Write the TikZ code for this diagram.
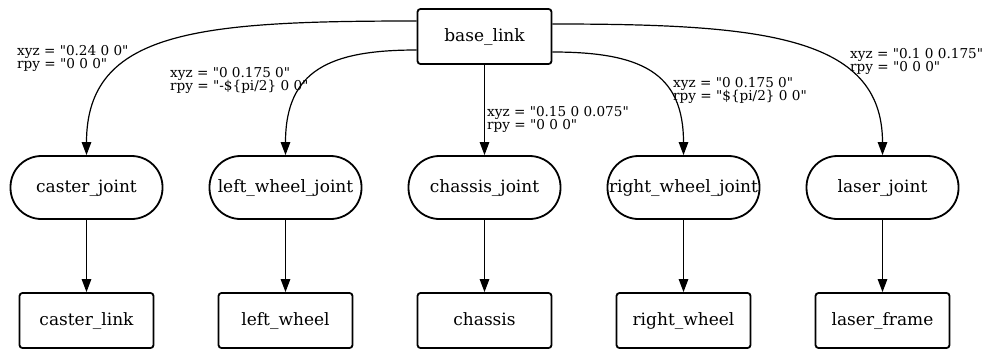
\documentclass[tikz,border=0pt]{standalone}
\usepackage{fontspec}
\setmainfont{DejaVu Serif}[Ligatures=TeXOff]
\usetikzlibrary{arrows.meta}
\begin{document}
\begin{tikzpicture}[x=1pt,y=-1pt,
  link/.style={draw, line width=1.8pt, rounded corners=3pt, minimum width=134pt,
    minimum height=55pt, inner sep=0pt, text height=12pt, text depth=3pt,
    font=\fontsize{17}{17}\selectfont},
  joint/.style={draw, line width=1.8pt, rounded corners=31pt, minimum width=152pt,
    minimum height=63pt, inner sep=0pt, text height=12pt, text depth=3pt,
    font=\fontsize{17}{17}\selectfont},
  tfedge/.style={line width=1.2pt, -{Triangle[length=13pt,width=9.5pt]}},
  lbl/.style={anchor=north west, align=left, inner sep=0pt,
    font=\fontsize{13.6}{13.5}\selectfont}]
\useasboundingbox (0,0) rectangle (987,348);

% root frame
\node[link] (base) at (484.5,36.5) {base\_link};

% joints
\node[joint] (cj)  at (86.5,187.5)  {caster\_joint};
\node[joint] (lwj) at (285.5,187.5) {left\_wheel\_joint};
\node[joint] (chj) at (484.5,187.5) {chassis\_joint};
\node[joint] (rwj) at (683.5,187.5) {right\_wheel\_joint};
\node[joint] (lj)  at (882.5,187.5) {laser\_joint};

% child frames
\node[link] (cl)  at (86.5,320.5)  {caster\_link};
\node[link] (lw)  at (285.5,320.5) {left\_wheel};
\node[link] (ch)  at (484.5,320.5) {chassis};
\node[link] (rw)  at (683.5,320.5) {right\_wheel};
\node[link] (lf)  at (882.5,320.5) {laser\_frame};

% base_link -> joints
\draw[tfedge] ([yshift=15.5pt]base.west) .. controls (200,21) and (86.5,30) .. (cj.north);
\draw[tfedge] ([yshift=-13.5pt]base.west) .. controls (330,50) and (285.5,70) .. (lwj.north);
\draw[tfedge] (base.south) -- (chj.north);
\draw[tfedge] ([yshift=-15.5pt]base.east) .. controls (640,52) and (683.5,72) .. (rwj.north);
\draw[tfedge] ([yshift=12.5pt]base.east) .. controls (760,24) and (882.5,35) .. (lj.north);

% joints -> child frames
\draw[tfedge] (cj)  -- (cl);
\draw[tfedge] (lwj) -- (lw);
\draw[tfedge] (chj) -- (ch);
\draw[tfedge] (rwj) -- (rw);
\draw[tfedge] (lj)  -- (lf);

% joint origins
\node[lbl] (cjo)  at (17,45)  {xyz = "0.24 0 0"\\rpy = "0 0 0"};
\node[lbl] (lwjo) at (170,67) {xyz = "0 0.175 0"\\rpy = "-\$\{pi/2\} 0 0"};
\node[lbl] (chjo) at (487,106) {xyz = "0.15 0 0.075"\\rpy = "0 0 0"};
\node[lbl] (rwjo) at (673,77) {xyz = "0 0.175 0"\\rpy = "\$\{pi/2\} 0 0"};
\node[lbl] (ljo)  at (850,48) {xyz = "0.1 0 0.175"\\rpy = "0 0 0"};
\end{tikzpicture}
\end{document}
